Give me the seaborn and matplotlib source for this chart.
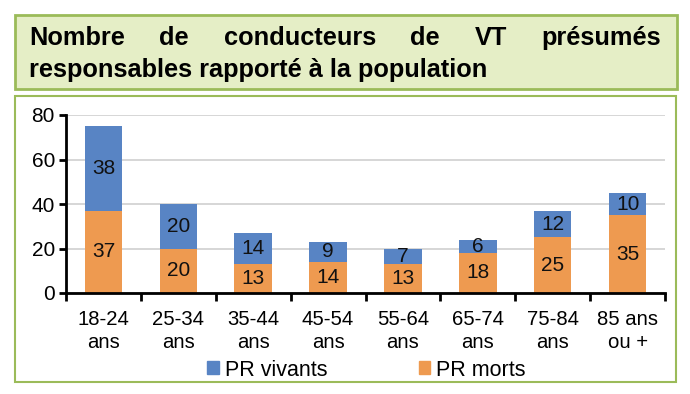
import matplotlib
matplotlib.use("Agg")
import matplotlib.pyplot as plt
import seaborn as sns
import pandas as pd
from matplotlib.patches import Rectangle, Patch

# data
ages = ["18-24\nans", "25-34\nans", "35-44\nans", "45-54\nans",
        "55-64\nans", "65-74\nans", "75-84\nans", "85 ans\nou +"]
vivants = [38, 20, 14, 9, 7, 6, 12, 10]
morts = [37, 20, 13, 14, 13, 18, 25, 35]
title_lines = ["Nombre de conducteurs de VT présumés",
               "responsables rapporté à la population"]

blue = "#5884C4"
orange = "#EE9A50"
green_fill = "#E5EEC6"
green_edge = "#9BBB59"

sns.set_theme(style="whitegrid")
plt.rcParams["font.family"] = ["Liberation Sans", "DejaVu Sans"]

df = pd.DataFrame({"age": ages, "vivants": vivants, "morts": morts})
df["total"] = df["vivants"] + df["morts"]

W, H = 690, 394
fig = plt.figure(figsize=(6.9, 3.94), dpi=100)
fig.patch.set_facecolor("white")

# title box and chart frame
fig.patches.append(Rectangle((15 / W, 1 - 89 / H), 662 / W, 74 / H, transform=fig.transFigure,
                             facecolor=green_fill, edgecolor=green_edge, lw=2, zorder=-10))
fig.patches.append(Rectangle((15 / W, 1 - 382 / H), 661 / W, 286 / H, transform=fig.transFigure,
                             facecolor="white", edgecolor=green_edge, lw=1.5, zorder=-10))

ax = fig.add_axes([66 / W, 1 - 293 / H, 599 / W, 178 / H])
ax.set_zorder(2)
ax.set_facecolor("none")

# stacked bars: total in blue, morts in orange on top of it
sns.barplot(data=df, x="age", y="total", color=blue, width=0.5, saturation=1,
            linewidth=0, ax=ax)
sns.barplot(data=df, x="age", y="morts", color=orange, width=0.5, saturation=1,
            linewidth=0, ax=ax)

for i, (v, m) in enumerate(zip(vivants, morts)):
    ax.text(i, m + v / 2, str(v), ha="center", va="center", fontsize=15, color="#111111")
ax.bar_label(ax.containers[1], labels=[str(m) for m in morts], label_type="center",
             fontsize=15, color="#111111")

ax.set_xlim(-0.5, 7.5)
ax.set_ylim(0, 80)
ax.set_yticks([0, 20, 40, 60, 80])
ax.set_xlabel("")
ax.set_ylabel("")
ax.grid(axis="x", visible=False)
ax.grid(axis="y", color="#D0D0D0", lw=1.2)
ax.set_axisbelow(True)
for s in ["top", "right"]:
    ax.spines[s].set_visible(False)
for s in ["left", "bottom"]:
    ax.spines[s].set_visible(True)
    ax.spines[s].set_color("black")
    ax.spines[s].set_linewidth(2)

ax.tick_params(axis="y", left=True, length=5, width=2, color="black",
               labelsize=15, pad=3, labelcolor="black")
ax.tick_params(axis="x", bottom=False, labelsize=14.6, pad=6, labelcolor="black")
for lab in ax.get_xticklabels():
    lab.set_linespacing(1.3)
ax.set_xticks([i + 0.5 for i in range(-1, 8)], minor=True)
ax.tick_params(axis="x", which="minor", bottom=True, length=6, width=2, color="black")

fig.legend(handles=[Patch(color=blue, label="PR vivants"), Patch(color=orange, label="PR morts")],
           loc="center left", bbox_to_anchor=(203 / W, 1 - 370 / H), ncol=2, frameon=False,
           fontsize=15.5, handlelength=0.55, handleheight=0.55, handletextpad=0.25,
           columnspacing=4.25, labelcolor="black", borderaxespad=0, borderpad=0.2)

# justified title, word by word on the first line
fig.canvas.draw()
renderer = fig.canvas.get_renderer()
x0, x1 = 29 / W, 661 / W
words = title_lines[0].split()
objs = [fig.text(0, 1 - 45 / H, w, fontsize=18.3, fontweight="bold", ha="left",
                 va="baseline", color="black") for w in words]
widths = [o.get_window_extent(renderer).width / W for o in objs]
gap = (x1 - x0 - sum(widths)) / (len(words) - 1)
x = x0
for o, w in zip(objs, widths):
    o.set_x(x)
    x += w + gap
fig.text(x0, 1 - 77 / H, title_lines[1], fontsize=18.3, fontweight="bold", ha="left",
         va="baseline", color="black")

fig.savefig("out.png", dpi=100)
